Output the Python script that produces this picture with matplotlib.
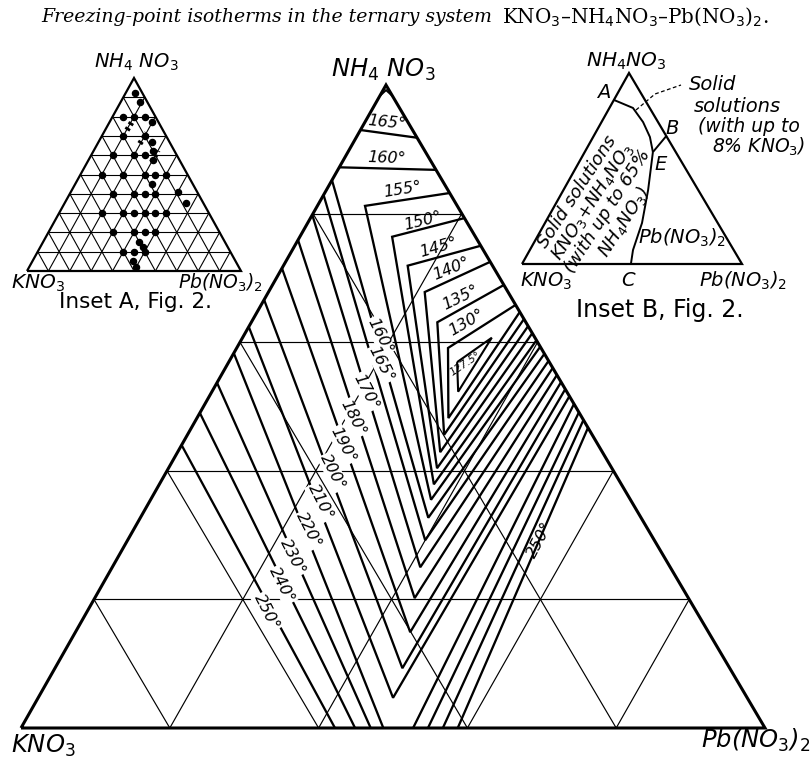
import numpy as np
import matplotlib
matplotlib.use("Agg")
import matplotlib.pyplot as plt

plt.rcParams["mathtext.fontset"] = "dejavusans"

# ---------------------------------------------------------------------------
# Data: compositions in % NH4NO3 and % Pb(NO3)2 (KNO3 makes up the rest)
# ---------------------------------------------------------------------------

# isotherms near the NH4NO3 corner running from side to side
top_temps = [165, 160]
top_left_nh4 = [93.0, 87.2]
top_right_nh4 = [91.8, 86.8]

# isotherms closed round the eutectic: right side -> corner -> valley -> right side
loop_temps = [155, 150, 145, 140, 135, 130]
loop_edge_nh4 = [83.2, 79.3, 75.0, 72.5, 68.9, 65.8]
loop_corner_nh4 = [81.2, 76.4, 71.9, 67.8, 63.1, 59.1]
loop_corner_pb = [6.4, 12.4, 16.7, 21.0, 25.0, 28.4]

# isotherms of the KNO3 field, starting on the KNO3-NH4NO3 side
side_temps = [160, 165, 170, 180, 190, 200, 210, 220, 230, 240, 250]
side_start_nh4 = [85.2, 82.9, 79.8, 75.9, 71.5, 66.6, 62.4, 58.3, 53.7, 49.0, 44.0]

# points where the isotherms turn on the eutectic valley
valley_temps = [130, 135, 140, 145, 150, 155, 160, 165, 170, 180, 190, 200, 210]
valley_nh4 = [48.2, 45.6, 42.9, 40.4, 37.9, 35.5, 32.7, 29.2, 25.0, 20.2, 14.9, 9.3, 4.7]
valley_pb = [33.8, 34.5, 35.3, 36.1, 36.9, 37.7, 38.7, 40.0, 41.4, 43.0, 45.0, 46.7, 47.7]

# isotherms that cut the KNO3-Pb(NO3)2 side on both sides of the binary eutectic
base_temps = [220, 230, 240, 250]
base_left_pb = [48.7, 47.0, 44.9, 42.2]
base_right_pb = [52.7, 54.7, 56.7, 58.7]

# ends of the Pb(NO3)2-field branches on the NH4NO3-Pb(NO3)2 side
pb_temps = [130, 135, 140, 145, 150, 155, 160, 165, 170, 180, 190, 200, 210, 220, 230, 240, 250]
pb_end_nh4 = [64.7, 63.6, 62.5, 61.4, 60.3, 59.3, 58.2, 57.1, 56.0, 54.9, 53.8, 52.7,
              51.6, 50.4, 49.1, 47.9, 46.7]

# small closed isotherm at the ternary eutectic
eutectic_temp = 127.5
eutectic_nh4 = [56.9, 60.7, 52.3]
eutectic_pb = [30.7, 33.5, 33.1]

# isotherm just below the NH4NO3 corner
apex_nh4 = [98.3, 99.2, 98.3]
apex_pb = [0.0, 0.4, 1.7]

# inset A: compositions studied
inset_a_nh4 = [92, 87.5, 80, 80, 80, 77, 70, 70, 67, 60, 60, 60, 62, 57.5, 50, 50, 50, 50, 50,
               45, 40, 40, 40, 40, 41, 35, 30, 30, 30, 30, 30, 30, 20, 20, 20, 20, 15, 12.5,
               10, 10, 10, 5, 2]
inset_a_pb = [4.5, 9, 5, 10, 15, 20, 10, 20, 25, 10, 20, 25, 28, 30, 10, 20, 30, 35, 40,
              36, 20, 30, 35, 40, 50, 57, 20, 30, 35, 40, 45, 50, 30, 40, 45, 50, 45, 48,
              40, 45, 50, 47, 50]

# inset A: hatched boundary marks (start / end)
hatch_a_nh4 = [(73, 80), (66, 71.5), (56.5, 62.5)]
hatch_a_pb = [(10.2, 10.6), (19.7, 20.3), (30.1, 29.9)]

# inset B: field boundaries
boundary_ae_nh4 = [85.9, 81.7, 74.3, 66.5, 58.6]
boundary_ae_pb = [0.0, 10.7, 18.9, 25.8, 31.0]
boundary_be_nh4 = [67.0, 58.6]
boundary_be_pb = [33.0, 31.0]
boundary_ec_nh4 = [58.6, 38.7, 21.5, 7.3, 0.0]
boundary_ec_pb = [31.0, 38.5, 44.1, 46.9, 49.5]

# ---------------------------------------------------------------------------
# Layout
# ---------------------------------------------------------------------------
MAIN = np.array([[21, 728], [765, 728], [386, 85]])      # KNO3, Pb(NO3)2, NH4NO3
TRI_A = np.array([[27, 271], [241, 271], [134, 78]])
TRI_B = np.array([[522, 264], [742, 264], [629, 73]])

# label anchors (composition) and angles
top_label_temps = [165, 160, 155, 150, 145, 140, 135, 130]
top_label_nh4 = [94.1, 88.6, 83.8, 78.9, 74.8, 71.4, 66.9, 63.1]
top_label_pb = [3.0, 5.7, 10.1, 15.3, 19.4, 22.8, 26.3, 28.9]
top_label_rot = [-6, -2, 9, 14, 16, 22, 26, 30]

side_label_nh4 = [61.0, 56.6, 52.3, 48.2, 44.0, 39.8, 35.1, 30.8, 26.6, 22.2, 18.0]
side_label_pb = [18.3, 20.6, 20.7, 21.0, 21.7, 22.4, 23.0, 23.5, 23.5, 24.2, 24.2]

ISO_LW = 1.65
GRID_LW = 0.85
EDGE_LW = 2.2
SANS = "DejaVu Sans"
LABEL_FONT = dict(family=SANS, style="italic", fontsize=11.5, color="black")


def to_xy(tri, nh4, pb):
    nh4 = np.asarray(nh4, float) / 100.0
    pb = np.asarray(pb, float) / 100.0
    k = 1.0 - nh4 - pb
    x = k * tri[0, 0] + pb * tri[1, 0] + nh4 * tri[2, 0]
    y = k * tri[0, 1] + pb * tri[1, 1] + nh4 * tri[2, 1]
    return x, y


def tri_plot(ax, tri, nh4, pb, **kw):
    x, y = to_xy(tri, nh4, pb)
    kw.setdefault("color", "black")
    kw.setdefault("solid_joinstyle", "miter")
    kw.setdefault("solid_capstyle", "butt")
    ax.plot(x, y, **kw)


def tri_text(ax, tri, nh4, pb, s, **kw):
    x, y = to_xy(tri, nh4, pb)
    ax.text(float(x), float(y), s, ha="center", va="center", **kw)


def outline(ax, tri, lw):
    tri_plot(ax, tri, [0, 0, 100, 0], [0, 100, 0, 0], lw=lw)


def grid(ax, tri, step, lw):
    for v in range(step, 100, step):
        tri_plot(ax, tri, [v, v], [0, 100 - v], lw=lw)
        tri_plot(ax, tri, [0, 100 - v], [v, v], lw=lw)
        tri_plot(ax, tri, [0, 100 - v], [100 - v, 0], lw=lw)


def label(x, y, s, size, **kw):
    ax.text(x, y, s, ha="center", va="center", family=SANS, style="italic",
            fontsize=size, **kw)


fig = plt.figure(figsize=(8.12, 7.58), dpi=100)
ax = fig.add_axes([0, 0, 1, 1])
ax.set_xlim(0, 812)
ax.set_ylim(758, 0)
ax.axis("off")

# title
ax.text(498, 17, "Freezing-point isotherms in the ternary system ", ha="right", va="center",
        family="DejaVu Serif", style="italic", fontsize=13.6)
ax.text(502, 17, r"KNO$_3$–NH$_4$NO$_3$–Pb(NO$_3$)$_2$.", ha="left", va="center",
        family="DejaVu Serif", fontsize=14.3)

# ---- main diagram ----
grid(ax, MAIN, 20, GRID_LW)
outline(ax, MAIN, EDGE_LW)

valley = dict(zip(valley_temps, zip(valley_nh4, valley_pb)))
pb_end = dict(zip(pb_temps, pb_end_nh4))

tri_plot(ax, MAIN, apex_nh4, apex_pb, lw=1.4)

for t, l, r in zip(top_temps, top_left_nh4, top_right_nh4):
    tri_plot(ax, MAIN, [l, r], [0, 100 - r], lw=ISO_LW)

for t, e, cn, cp in zip(loop_temps, loop_edge_nh4, loop_corner_nh4, loop_corner_pb):
    vn, vp = valley[t]
    pe = pb_end[t]
    tri_plot(ax, MAIN, [e, cn, vn, pe], [100 - e, cp, vp, 100 - pe], lw=ISO_LW)

for t, s in zip(side_temps, side_start_nh4):
    pe = pb_end[t]
    if t in valley:
        vn, vp = valley[t]
        tri_plot(ax, MAIN, [s, vn, pe], [0, vp, 100 - pe], lw=ISO_LW)
    else:
        i = base_temps.index(t)
        tri_plot(ax, MAIN, [s, 0], [0, base_left_pb[i]], lw=ISO_LW)
        tri_plot(ax, MAIN, [0, pe], [base_right_pb[i], 100 - pe], lw=ISO_LW)

tri_plot(ax, MAIN, eutectic_nh4 + eutectic_nh4[:1], eutectic_pb + eutectic_pb[:1], lw=1.5)

# isotherm labels
for t, n, p, r in zip(top_label_temps, top_label_nh4, top_label_pb, top_label_rot):
    tri_text(ax, MAIN, n, p, f"{t}°", rotation=r, **LABEL_FONT)

for t, n, p in zip(side_temps, side_label_nh4, side_label_pb):
    tri_text(ax, MAIN, n, p, f"{t}°", rotation=-63,
             bbox=dict(boxstyle="square,pad=0.05", fc="white", ec="none"), **LABEL_FONT)

tri_text(ax, MAIN, float(np.mean(eutectic_nh4)), float(np.mean(eutectic_pb)) - 0.5,
         f"{eutectic_temp}°", rotation=34, family=SANS, style="italic", fontsize=7.5)
tri_text(ax, MAIN, 29.2, 55.4, f"{base_temps[-1]}°", rotation=62, **LABEL_FONT)

label(383, 70, r"NH$_4$ NO$_3$", 17.5)
label(43, 746, r"KNO$_3$", 17.5)
label(756, 740, r"Pb(NO$_3$)$_2$", 17.5)

# ---- inset A ----
grid(ax, TRI_A, 10, 0.8)
outline(ax, TRI_A, 1.6)
xa, ya = to_xy(TRI_A, inset_a_nh4, inset_a_pb)
ax.plot(xa, ya, "o", color="black", ms=4.4, ls="none")
for hn, hp in zip(hatch_a_nh4, hatch_a_pb):
    tri_plot(ax, TRI_A, hn, hp, lw=4.0, ls=(0, (0.5, 0.6)))
label(136, 62, r"NH$_4$ NO$_3$", 14)
label(38, 283, r"KNO$_3$", 14.5)
label(221, 283, r"Pb(NO$_3$)$_2$", 13.5)
ax.text(136, 302, "Inset A, Fig. 2.", ha="center", va="center", family=SANS, fontsize=15.5)

# ---- inset B ----
outline(ax, TRI_B, 1.6)
tri_plot(ax, TRI_B, boundary_ae_nh4, boundary_ae_pb, lw=1.4)
tri_plot(ax, TRI_B, boundary_be_nh4, boundary_be_pb, lw=1.4)
tri_plot(ax, TRI_B, boundary_ec_nh4, boundary_ec_pb, lw=1.4)
ax.plot([636, 655, 681], [110, 94, 85], color="black", lw=0.9, ls=(0, (3, 2)))

label(626, 61, r"NH$_4$NO$_3$", 14.5)
label(604, 93, "A", 14)
label(672, 128, "B", 14)
label(661, 165, "E", 14)
label(628, 281, "C", 14)
label(546, 281, r"KNO$_3$", 14)
label(743, 281, r"Pb(NO$_3$)$_2$", 14)
label(682, 238, r"Pb(NO$_3$)$_2$", 14)
ax.text(601, 207, "Solid solutions\n" + r"KNO$_3$+NH$_4$NO$_3$" + "\n(with up to 65%\n"
        + r"NH$_4$NO$_3$)", ha="center", va="center", rotation=57, linespacing=0.95,
        multialignment="center", family=SANS, style="italic", fontsize=13)
label(713, 85, "Solid", 14)
label(737, 107, "solutions", 14)
label(749, 127, "(with up to", 13.5)
label(759, 147, r"8% KNO$_3$)", 13.5)
ax.text(660, 310, "Inset B, Fig. 2.", ha="center", va="center", family=SANS, fontsize=17)

fig.savefig("out.png", dpi=100)
